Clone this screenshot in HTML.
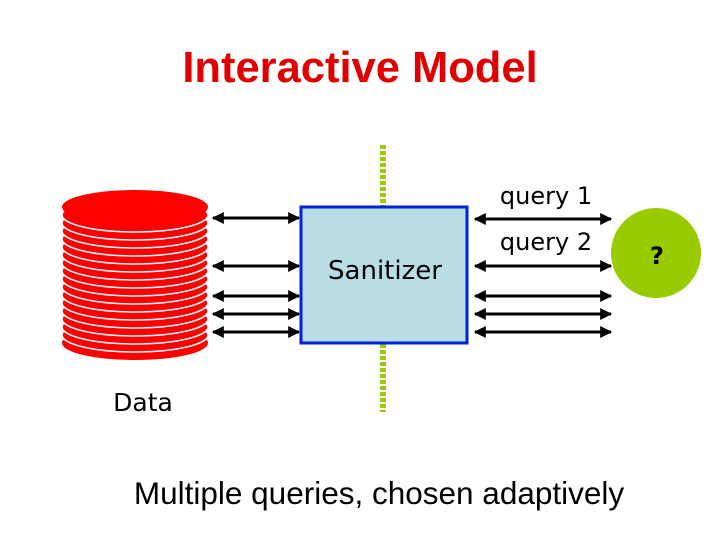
<!DOCTYPE html>
<html><head><meta charset="utf-8"><style>
body{margin:0;background:#fff;width:720px;height:540px;overflow:hidden}
</style></head><body>
<svg width="720" height="540" xmlns="http://www.w3.org/2000/svg">
<defs>
<marker id="a" viewBox="0 0 10 10" refX="9" refY="5" markerWidth="4" markerHeight="4" orient="auto-start-reverse"><path d="M0,0L10,5L0,10z" fill="#000"/></marker>
</defs>
<text x="360" y="82" text-anchor="middle" font-family="Liberation Sans, sans-serif" font-weight="bold" font-size="43.5" fill="#e00000">Interactive Model</text>
<g>
<ellipse cx="135" cy="343" rx="73" ry="17" fill="#f00"/>
<ellipse cx="135" cy="335" rx="73" ry="17" fill="#f00" stroke="#fff" stroke-width="1.5"/>
<ellipse cx="135" cy="327" rx="73" ry="17" fill="#f00" stroke="#fff" stroke-width="1.5"/>
<ellipse cx="135" cy="319" rx="73" ry="17" fill="#f00" stroke="#fff" stroke-width="1.5"/>
<ellipse cx="135" cy="311" rx="73" ry="17" fill="#f00" stroke="#fff" stroke-width="1.5"/>
<ellipse cx="135" cy="303" rx="73" ry="17" fill="#f00" stroke="#fff" stroke-width="1.5"/>
<ellipse cx="135" cy="295" rx="73" ry="17" fill="#f00" stroke="#fff" stroke-width="1.5"/>
<ellipse cx="135" cy="287" rx="73" ry="17" fill="#f00" stroke="#fff" stroke-width="1.5"/>
<ellipse cx="135" cy="279" rx="73" ry="17" fill="#f00" stroke="#fff" stroke-width="1.5"/>
<ellipse cx="135" cy="271" rx="73" ry="17" fill="#f00" stroke="#fff" stroke-width="1.5"/>
<ellipse cx="135" cy="263" rx="73" ry="17" fill="#f00" stroke="#fff" stroke-width="1.5"/>
<ellipse cx="135" cy="255" rx="73" ry="17" fill="#f00" stroke="#fff" stroke-width="1.5"/>
<ellipse cx="135" cy="247" rx="73" ry="17" fill="#f00" stroke="#fff" stroke-width="1.5"/>
<ellipse cx="135" cy="239" rx="73" ry="17" fill="#f00" stroke="#fff" stroke-width="1.5"/>
<ellipse cx="135" cy="231" rx="73" ry="17" fill="#f00" stroke="#fff" stroke-width="1.5"/>
<ellipse cx="135" cy="223" rx="73" ry="17" fill="#f00" stroke="#fff" stroke-width="1.5"/>
<ellipse cx="135" cy="215" rx="73" ry="17" fill="#f00" stroke="#fff" stroke-width="1.5"/>
<ellipse cx="135" cy="207" rx="73" ry="17" fill="#f00"/>
</g>
<line x1="383" y1="145" x2="383" y2="206" stroke="#9c0" stroke-width="6" stroke-dasharray="4,2"/>
<line x1="383" y1="344" x2="383" y2="412" stroke="#9c0" stroke-width="6" stroke-dasharray="4,2"/>
<rect x="301" y="207" width="166" height="136" fill="#b9dde5" stroke="#0022dd" stroke-width="3"/>
<text x="385" y="279" text-anchor="middle" font-family="DejaVu Sans, sans-serif" font-size="26">Sanitizer</text>
<g stroke="#000" stroke-width="3" marker-start="url(#a)" marker-end="url(#a)">
<line x1="213" y1="218" x2="299" y2="218"/>
<line x1="213" y1="266" x2="299" y2="266"/>
<line x1="213" y1="296" x2="299" y2="296"/>
<line x1="213" y1="314" x2="299" y2="314"/>
<line x1="213" y1="332" x2="299" y2="332"/>
<line x1="475" y1="219" x2="611" y2="219"/>
<line x1="475" y1="266" x2="611" y2="266"/>
<line x1="475" y1="296" x2="611" y2="296"/>
<line x1="475" y1="314" x2="611" y2="314"/>
<line x1="475" y1="332" x2="611" y2="332"/>
</g>
<text x="546" y="204" text-anchor="middle" font-family="DejaVu Sans, sans-serif" font-size="24">query 1</text>
<text x="546" y="250" text-anchor="middle" font-family="DejaVu Sans, sans-serif" font-size="24">query 2</text>
<circle cx="656" cy="253" r="45" fill="#99cc00"/>
<text x="657" y="264" text-anchor="middle" font-family="DejaVu Sans, sans-serif" font-weight="bold" font-size="24">?</text>
<text x="143" y="411" text-anchor="middle" font-family="DejaVu Sans, sans-serif" font-size="25">Data</text>
<text x="379" y="504" text-anchor="middle" font-family="Liberation Sans, sans-serif" font-size="31.5">Multiple queries, chosen adaptively</text>
</svg>
</body></html>
